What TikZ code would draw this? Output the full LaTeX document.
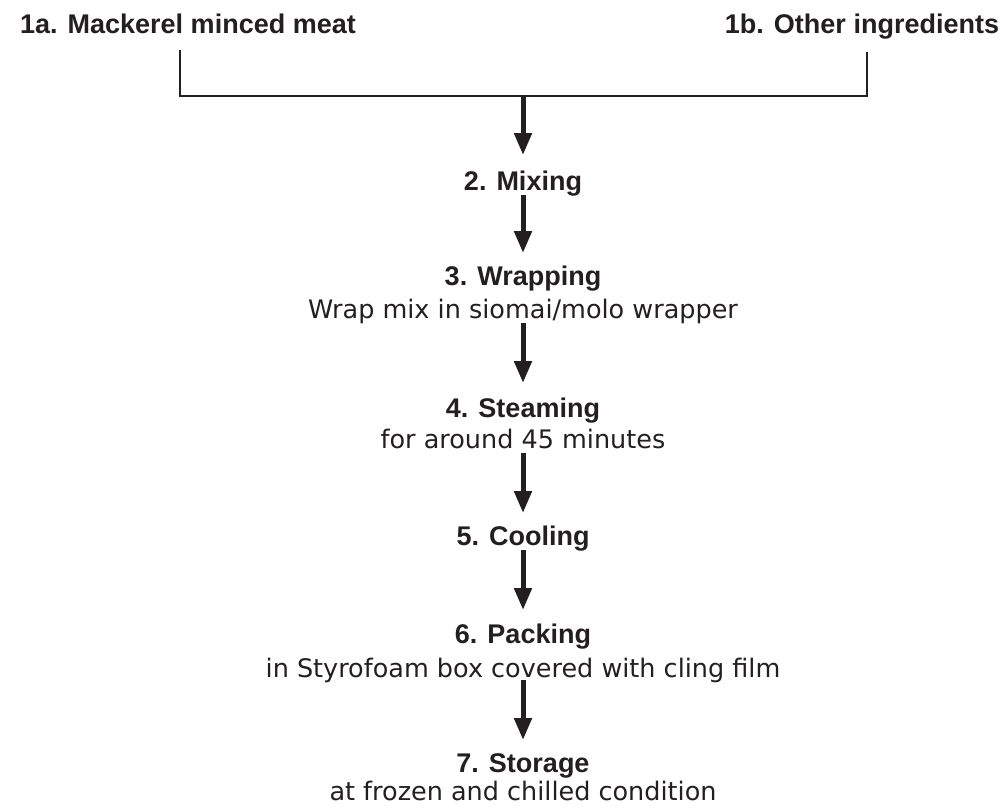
\documentclass[tikz,border=0pt]{standalone}
\usepackage{fontspec}
\setmainfont{Liberation Sans}
\newfontfamily\descfont{DejaVu Sans}
\usetikzlibrary{arrows.meta,calc}
\definecolor{ink}{HTML}{231F20}
\tikzset{
  steptitle/.style={anchor=base, inner sep=0pt, text=ink,
    font=\fontsize{27pt}{32pt}\selectfont\bfseries},
  stepdesc/.style={anchor=base, inner sep=0pt, text=ink,
    font=\descfont\fontsize{25.5pt}{30pt}\selectfont},
  bracketline/.style={draw=ink, line width=2pt},
  flow/.style={draw=ink, line width=5pt,
    -{Triangle[width=17pt,length=22pt]}},
}
\begin{document}
\begin{tikzpicture}[x=1pt,y=-1pt]
\useasboundingbox (0,0) rectangle (1005,807);

% raw materials
\node[steptitle] (inA) at (188,33) {1a. Mackerel minced meat};
\node[steptitle] (inB) at (862,33) {1b. Other ingredients};

% processing steps
\node[steptitle] (mix)    at (523,190) {2. Mixing};
\node[steptitle] (wrapT)  at (523,285) {3. Wrapping};
\node[stepdesc]  (wrapD)  at (523,318) {Wrap mix in siomai/molo wrapper};
\node[steptitle] (steamT) at (523,417) {4. Steaming};
\node[stepdesc]  (steamD) at (523,448) {for around 45 minutes};
\node[steptitle] (cool)   at (523,545) {5. Cooling};
\node[steptitle] (packT)  at (523,643) {6. Packing};
\node[stepdesc]  (packD)  at (523,677) {in Styrofoam box covered with cling film};
\node[steptitle] (storeT) at (523,772) {7. Storage};
\node[stepdesc]  (storeD) at (523,800) {at frozen and chilled condition};

% bracket joining the two inputs
\coordinate (brA) at (180,50);
\coordinate (brB) at (867,52);
\coordinate (join) at (523,96);
\draw[bracketline] (brA) |- (join) -| (brB);

% flow arrows
\draw[flow] (join) -- ($(mix.base)+(0,-35)$);
\draw[flow] ($(mix.base)+(0,5)$) -- ($(wrapT.base)+(0,-32)$);
\draw[flow] ($(wrapD.base)+(0,5)$) -- ($(steamT.base)+(0,-34)$);
\draw[flow] ($(steamD.base)+(0,5)$) -- ($(cool.base)+(0,-32)$);
\draw[flow] ($(cool.base)+(0,5)$) -- ($(packT.base)+(0,-33)$);
\draw[flow] ($(packD.base)+(0,3)$) -- ($(storeT.base)+(0,-32)$);
\end{tikzpicture}
\end{document}
